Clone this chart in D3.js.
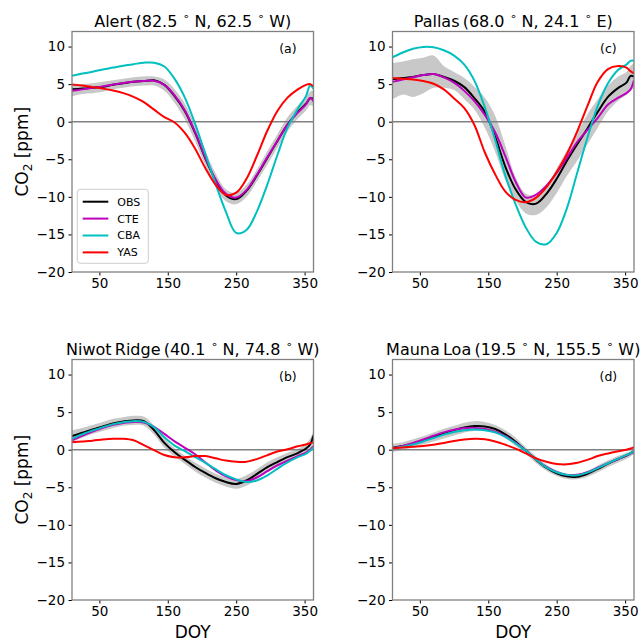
<!DOCTYPE html>
<html>
<head>
<meta charset="utf-8">
<script src="https://cdn.jsdelivr.net/npm/d3@7"></script>
<style>
  body { margin: 0; background: #fff; }
  svg { display: block; font-family: "DejaVu Sans", sans-serif; }
</style>
</head>
<body>
<svg id="chart" width="644" height="640"></svg>
<script>
// Day-of-year sample points shared by every curve
const doy = [10, 25, 40, 55, 70, 85, 100, 115, 130, 145, 160, 175, 190, 205, 220, 235, 250, 265, 280, 295, 310, 325, 340, 352, 358, 363];

const xTicks = [50, 150, 250, 350];
const yTicks = [-20, -15, -10, -5, 0, 5, 10];
const seriesNames = ["OBS", "CTE", "CBA", "YAS"];

const stationNames = ["Alert", "Pallas", "Niwot Ridge", "Mauna Loa"];
const stationLat = ["82.5", "68.0", "40.1", "19.5"];
const stationLon = ["62.5", "24.1", "74.8", "155.5"];
const stationLonDir = ["W", "E", "W", "W"];
const panelTags = ["(a)", "(c)", "(b)", "(d)"];

// Alert: mean seasonal cycle (ppm) and observed spread
const alertObs = [4.3, 4.4, 4.5, 4.65, 4.9, 5.1, 5.3, 5.4, 5.5, 4.9, 3.4, 1.4, -1.5, -4.9, -7.8, -9.8, -10.3, -9.2, -7.2, -4.9, -2.6, -0.4, 1.3, 2.4, 3.1, 3.1];
const alertCte = [4.1, 4.3, 4.5, 4.7, 4.95, 5.15, 5.3, 5.4, 5.45, 4.9, 3.5, 1.5, -1.4, -4.8, -7.7, -9.6, -10.1, -9.1, -7.1, -4.8, -2.6, -0.4, 1.2, 2.3, 3.2, 2.7];
const alertCba = [6.1, 6.4, 6.65, 6.95, 7.2, 7.45, 7.65, 7.85, 7.85, 7.35, 5.7, 3.2, -0.3, -4.3, -8.3, -12.0, -14.8, -14.4, -12.0, -8.5, -4.5, -0.8, 1.7, 3.4, 4.8, 4.4];
const alertYas = [4.95, 4.8, 4.6, 4.4, 4.15, 3.8, 3.3, 2.6, 1.6, 0.6, -0.1, -1.5, -3.6, -6.2, -8.4, -9.75, -9.45, -7.6, -4.6, -1.3, 1.4, 3.2, 4.3, 4.9, 5.0, 4.7];
const alertLo = [3.4, 3.7, 3.8, 4.0, 4.3, 4.5, 4.7, 4.8, 4.8, 4.1, 2.5, 0.3, -2.6, -5.9, -8.7, -10.6, -11.0, -10.0, -8.0, -5.8, -3.5, -1.3, 0.4, 1.5, 2.2, 2.0];
const alertHi = [5.0, 5.0, 5.1, 5.3, 5.5, 5.7, 5.9, 6.0, 6.0, 5.6, 4.3, 2.4, -0.5, -3.9, -6.9, -9.0, -9.5, -8.4, -6.4, -4.0, -1.7, 0.6, 2.2, 3.3, 4.0, 4.1];

// Pallas
const pallasObs = [5.65, 5.8, 5.95, 6.2, 6.35, 5.95, 5.45, 4.6, 3.1, 1.3, -2.0, -6.0, -9.0, -10.7, -10.9, -9.6, -7.6, -5.2, -3.0, -0.9, 1.3, 3.3, 4.5, 5.2, 6.1, 6.0];
const pallasCte = [5.3, 5.6, 5.9, 6.2, 6.35, 5.9, 5.2, 4.1, 2.7, 0.9, -1.4, -4.6, -8.0, -10.1, -9.7, -8.5, -6.8, -4.8, -2.7, -1.1, 0.5, 2.3, 3.2, 3.8, 4.3, 5.5];
const pallasCba = [8.55, 9.2, 9.7, 9.95, 9.9, 9.5, 8.8, 7.6, 5.4, 1.9, -2.4, -7.2, -11.0, -14.1, -16.0, -16.3, -14.8, -11.5, -6.8, -2.1, 2.1, 5.1, 6.9, 7.6, 8.1, 8.1];
const pallasYas = [5.8, 5.7, 5.6, 5.4, 5.05, 4.3, 3.1, 1.8, -0.5, -4.1, -7.0, -9.3, -10.4, -10.7, -10.1, -8.7, -6.7, -4.3, -1.3, 2.1, 5.3, 7.0, 7.4, 7.2, 6.7, 6.4];
const pallasLo = [3.0, 3.6, 3.3, 3.8, 4.5, 4.5, 4.2, 3.0, 1.6, -0.8, -4.0, -7.8, -10.5, -12.2, -12.4, -11.4, -9.5, -7.2, -5.2, -3.0, -0.8, 1.4, 2.8, 3.6, 4.2, 4.4];
const pallasHi = [7.8, 8.0, 8.3, 8.5, 8.8, 7.4, 6.6, 5.8, 4.6, 3.2, 0.8, -3.2, -7.4, -9.6, -9.8, -8.6, -6.2, -3.8, -1.5, 1.0, 3.0, 4.8, 6.0, 6.6, 7.4, 7.8];

// Niwot Ridge
const niwotObs = [1.8, 2.25, 2.7, 3.1, 3.5, 3.75, 3.9, 3.8, 2.6, 0.9, -0.35, -1.35, -2.3, -3.1, -3.8, -4.3, -4.55, -4.1, -3.25, -2.35, -1.65, -1.0, -0.45, 0.15, 0.7, 1.9];
const niwotCte = [1.25, 1.85, 2.4, 2.9, 3.3, 3.55, 3.7, 3.6, 3.05, 2.1, 1.1, 0.25, -0.6, -1.7, -2.75, -3.55, -4.05, -4.2, -3.7, -2.9, -2.1, -1.45, -0.85, -0.4, 0.0, 0.45];
const niwotCba = [1.45, 2.05, 2.55, 3.0, 3.4, 3.65, 3.8, 3.7, 3.0, 1.65, 0.55, -0.2, -1.0, -1.75, -2.6, -3.4, -3.95, -4.3, -4.1, -3.45, -2.55, -1.7, -1.0, -0.55, -0.15, 0.35];
const niwotYas = [1.0, 1.1, 1.2, 1.35, 1.45, 1.45, 1.25, 0.6, -0.05, -0.7, -1.0, -1.0, -0.85, -0.85, -1.15, -1.45, -1.6, -1.6, -1.25, -0.75, -0.25, 0.05, 0.45, 0.7, 0.85, 1.0];
const niwotLo = [1.0, 1.6, 2.1, 2.5, 2.9, 3.2, 3.3, 3.2, 2.0, 0.3, -0.9, -1.9, -2.9, -3.7, -4.4, -4.9, -5.2, -4.8, -3.9, -3.0, -2.3, -1.6, -1.0, -0.4, 0.1, 0.8];
const niwotHi = [2.6, 2.9, 3.3, 3.7, 4.1, 4.3, 4.5, 4.4, 3.2, 1.5, 0.2, -0.8, -1.7, -2.5, -3.2, -3.7, -3.9, -3.4, -2.6, -1.7, -1.0, -0.4, 0.1, 0.8, 1.5, 2.5];

// Mauna Loa
const maunaObs = [0.25, 0.5, 0.8, 1.2, 1.7, 2.2, 2.6, 2.95, 3.15, 3.1, 2.75, 2.05, 1.05, -0.15, -1.35, -2.4, -3.15, -3.55, -3.6, -3.2, -2.55, -1.85, -1.25, -0.8, -0.5, -0.2];
const maunaCte = [0.15, 0.5, 0.9, 1.35, 1.85, 2.3, 2.65, 2.85, 2.9, 2.75, 2.4, 1.8, 0.9, -0.15, -1.3, -2.3, -2.95, -3.35, -3.35, -3.0, -2.4, -1.8, -1.2, -0.75, -0.5, -0.3];
const maunaCba = [0.15, 0.4, 0.7, 1.1, 1.55, 2.0, 2.35, 2.6, 2.7, 2.6, 2.3, 1.7, 0.85, -0.15, -1.3, -2.35, -3.0, -3.35, -3.4, -3.05, -2.45, -1.8, -1.2, -0.7, -0.45, -0.2];
const maunaYas = [0.2, 0.3, 0.4, 0.5, 0.65, 0.9, 1.15, 1.35, 1.45, 1.4, 1.1, 0.65, 0.15, -0.5, -1.15, -1.6, -1.9, -1.95, -1.75, -1.35, -0.85, -0.5, -0.2, 0.0, 0.15, 0.35];
const maunaLo = [-0.3, 0.0, 0.3, 0.7, 1.1, 1.5, 1.9, 2.3, 2.5, 2.5, 2.2, 1.5, 0.5, -0.6, -1.8, -2.8, -3.5, -3.9, -3.95, -3.6, -3.0, -2.3, -1.7, -1.2, -0.9, -0.6];
const maunaHi = [0.8, 1.0, 1.4, 1.8, 2.3, 2.8, 3.2, 3.6, 3.8, 3.7, 3.3, 2.6, 1.6, 0.3, -0.9, -2.0, -2.8, -3.2, -3.25, -2.8, -2.1, -1.4, -0.8, -0.4, -0.2, 0.1];

// Panels in drawing order: top-left, top-right, bottom-left, bottom-right
const panels = [
  { series: [alertObs, alertCte, alertCba, alertYas], lo: alertLo, hi: alertHi },
  { series: [pallasObs, pallasCte, pallasCba, pallasYas], lo: pallasLo, hi: pallasHi },
  { series: [niwotObs, niwotCte, niwotCba, niwotYas], lo: niwotLo, hi: niwotHi },
  { series: [maunaObs, maunaCte, maunaCba, maunaYas], lo: maunaLo, hi: maunaHi }
];

const colors = ["#000000", "#bf00bf", "#00bfbf", "#ff0000"];
const W = 241.5, H = 240.5;
const origins = [[72, 31.5], [392.5, 31.5], [72, 359.5], [392.5, 359.5]];

const svg = d3.select("#chart");
const x = d3.scaleLinear().domain([doy[0], doy[doy.length - 1]]).range([0, W]);
const y = d3.scaleLinear().domain([-20, 12]).range([H, 0]);
const curve = d3.curveCatmullRom.alpha(0.5);

const lineGen = d3.line().x((d, i) => x(doy[i])).y(d => y(d)).curve(curve);
const areaGen = (lo, hi) => d3.area()
  .x(d => x(d))
  .y0((d, i) => y(lo[i]))
  .y1((d, i) => y(hi[i]))
  .curve(curve)(doy);

const fmt = d => d < 0 ? "\u2212" + Math.abs(d) : String(d);
const THIN = "\u2009";

panels.forEach((p, k) => {
  const [ox, oy] = origins[k];
  const g = svg.append("g").attr("transform", `translate(${ox},${oy})`);

  const clipId = "plotclip" + k;
  g.append("clipPath").attr("id", clipId)
    .append("rect").attr("width", W).attr("height", H);
  const plot = g.append("g").attr("clip-path", `url(#${clipId})`);

  // observed spread
  plot.append("path").attr("d", areaGen(p.lo, p.hi)).attr("fill", "#c8c8c8");

  // zero reference line
  plot.append("line")
    .attr("x1", 0).attr("x2", W)
    .attr("y1", y(0)).attr("y2", y(0))
    .attr("stroke", "#808080").attr("stroke-width", 1.5);

  // seasonal cycles
  p.series.forEach((vals, j) => {
    plot.append("path")
      .attr("d", lineGen(vals))
      .attr("fill", "none")
      .attr("stroke", colors[j])
      .attr("stroke-width", 2)
      .attr("stroke-linejoin", "round");
  });

  // axes
  const xa = g.append("g").attr("transform", `translate(0,${H})`)
    .call(d3.axisBottom(x).tickValues(xTicks).tickSize(3.5).tickPadding(3));
  const ya = g.append("g")
    .call(d3.axisLeft(y).tickValues(yTicks).tickSize(3.5).tickPadding(3.5).tickFormat(fmt));
  [xa, ya].forEach(a => {
    a.select(".domain").remove();
    a.attr("font-family", "DejaVu Sans, sans-serif").attr("font-size", 13.5);
    a.selectAll("text").attr("fill", "#000");
    a.selectAll("line").attr("stroke", "#000").attr("stroke-width", 1);
  });

  // frame
  g.append("rect").attr("width", W).attr("height", H)
    .attr("fill", "none").attr("stroke", "#808080").attr("stroke-width", 1.3);

  // panel tag
  g.append("text").attr("x", W * 0.894).attr("y", 21.5)
    .attr("text-anchor", "middle").attr("font-size", 12.5).attr("fill", "#000")
    .text(panelTags[k]);

  // title with superscript degree signs
  const t = g.append("text").attr("x", W / 2).attr("y", -5)
    .attr("text-anchor", "middle").attr("font-size", 16).attr("fill", "#000")
    .style("white-space", "pre");
  t.append("tspan").text(`${stationNames[k].replace(" ", THIN)}${THIN}(${stationLat[k]} `);
  t.append("tspan").attr("font-size", 11).attr("dy", -6.5).text("\u2218");
  t.append("tspan").attr("dy", 6.5).text(` N, ${stationLon[k]} `);
  t.append("tspan").attr("font-size", 11).attr("dy", -6.5).text("\u2218");
  t.append("tspan").attr("dy", 6.5).text(` ${stationLonDir[k]})`);

  // y label on the left column
  if (k % 2 === 0) {
    const yl = g.append("text")
      .attr("transform", `translate(${28 - ox},${H / 2}) rotate(-90)`)
      .attr("text-anchor", "middle").attr("font-size", 17).attr("fill", "#000")
      .style("white-space", "pre");
    yl.append("tspan").text("CO");
    yl.append("tspan").attr("font-size", 12).attr("dy", 3.5).text("2");
    yl.append("tspan").attr("dy", -3.5).text(" [ppm]");
  }

  // x label on the bottom row
  if (k >= 2) {
    g.append("text").attr("x", W / 2).attr("y", 637.5 - oy)
      .attr("text-anchor", "middle").attr("font-size", 17).attr("fill", "#000")
      .text("DOY");
  }

  // legend in the first panel
  if (k === 0) {
    const lg = g.append("g").attr("transform", "translate(5.3,157.8)");
    lg.append("rect").attr("width", 71).attr("height", 74).attr("rx", 3)
      .attr("fill", "#fff").attr("fill-opacity", 0.8)
      .attr("stroke", "#cccccc").attr("stroke-width", 1);
    seriesNames.forEach((name, j) => {
      const ry = 12.4 + j * 16.9;
      lg.append("line").attr("x1", 5.4).attr("x2", 31).attr("y1", ry).attr("y2", ry)
        .attr("stroke", colors[j]).attr("stroke-width", 2);
      lg.append("text").attr("x", 40).attr("y", ry).attr("dy", "0.36em")
        .attr("font-size", 11).attr("fill", "#000").text(name);
    });
  }
});
</script>
</body>
</html>
